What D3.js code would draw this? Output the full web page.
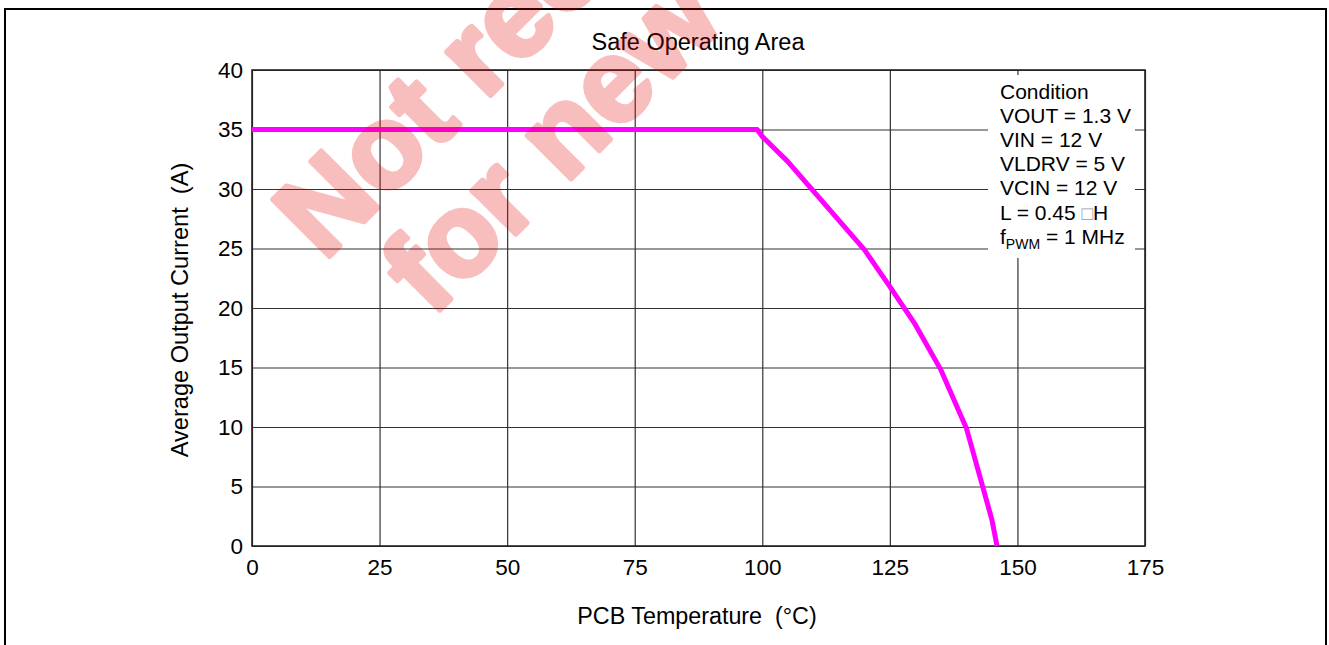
<!DOCTYPE html>
<html>
<head>
<meta charset="utf-8">
<script src="https://cdn.jsdelivr.net/npm/d3@7"></script>
<style>
  body { margin: 0; background: #fff; }
  text { font-family: "Liberation Sans", Arial, sans-serif; }
</style>
</head>
<body>
<div id="chart"></div>
<script>
// data
const temps   = [0, 99, 100, 105, 120, 125, 130, 135, 140, 145, 146];
const current = [35, 35, 34.4, 32.3, 24.9, 21.8, 18.6, 14.8, 9.9, 2.2, 0];
const xTicks = [0, 25, 50, 75, 100, 125, 150, 175];
const yTicks = [0, 5, 10, 15, 20, 25, 30, 35, 40];
const conditionLines = ["Condition", "VOUT = 1.3 V", "VIN = 12 V", "VLDRV = 5 V", "VCIN = 12 V"];

const W = 1329, H = 645;
const margin = {top: 70, right: 184, bottom: 99, left: 252},
    width = W - margin.left - margin.right,
    height = H - margin.top - margin.bottom;

const root = d3.select("#chart").append("svg")
  .attr("width", W)
  .attr("height", H);

// outer frame
root.append("rect")
  .attr("x", 5).attr("y", 9)
  .attr("width", 1321).attr("height", 700)
  .attr("fill", "none")
  .attr("stroke", "#000")
  .attr("stroke-width", 2);

const svg = root.append("g")
  .attr("transform", `translate(${margin.left},${margin.top})`);

const x = d3.scaleLinear().domain([0, 175]).range([0, width]);
const y = d3.scaleLinear().domain([0, 40]).range([height, 0]);

// axes + grid
const xAxis = svg.append("g")
  .attr("transform", `translate(0,${height})`)
  .call(d3.axisBottom(x).tickValues(xTicks).tickSize(-height).tickPadding(13));
const yAxis = svg.append("g")
  .call(d3.axisLeft(y).tickValues(yTicks).tickSize(-width).tickPadding(9));

[xAxis, yAxis].forEach(a => {
  a.select(".domain").remove();
  a.selectAll("line").attr("stroke", "#333").attr("stroke-width", 1.2);
  a.selectAll("text")
    .attr("font-size", 22.5)
    .attr("fill", "#000")
    .style("font-family", '"Liberation Sans", Arial, sans-serif');
});

// condition box
svg.append("rect")
  .attr("x", 988 - margin.left).attr("y", 75 - margin.top)
  .attr("width", 147).attr("height", 183)
  .attr("fill", "#fff");

// plot border
svg.append("rect")
  .attr("width", width).attr("height", height)
  .attr("fill", "none")
  .attr("stroke", "#222")
  .attr("stroke-width", 1.6);

// curve
const pts = temps.map((t, i) => [t, current[i]]);
svg.append("path")
  .datum(pts)
  .attr("fill", "none")
  .attr("stroke", "#ff00ff")
  .attr("stroke-width", 5)
  .attr("stroke-linejoin", "round")
  .attr("d", d3.line().x(d => x(d[0])).y(d => y(d[1])));

// condition text
const cx = 1000 - margin.left;
const cond = svg.append("text")
  .attr("x", cx)
  .attr("y", 99 - margin.top)
  .attr("font-size", 21);
conditionLines.forEach((s, i) => {
  cond.append("tspan").attr("x", cx).attr("dy", i ? 24.1 : 0).text(s);
});
cond.append("tspan").attr("x", cx).attr("dy", 24.1).text("L = 0.45 ");
cond.append("tspan").attr("fill", "#999").attr("font-size", 19).text("\u25A1");
cond.append("tspan").text("H");
cond.append("tspan").attr("x", cx).attr("dy", 24.1).text("f");
cond.append("tspan").attr("font-size", 14).attr("dy", 5).text("PWM");
cond.append("tspan").attr("dy", -5).text(" = 1 MHz");

// title
root.append("text")
  .attr("x", 698).attr("y", 50)
  .attr("text-anchor", "middle")
  .attr("font-size", 23.5)
  .text("Safe Operating Area");

// axis labels
root.append("text")
  .attr("x", 697).attr("y", 624)
  .attr("text-anchor", "middle")
  .attr("font-size", 23.3)
  .style("white-space", "pre")
  .text("PCB Temperature  (°C)");

root.append("text")
  .attr("transform", "translate(188,310) rotate(-90)")
  .attr("text-anchor", "middle")
  .attr("font-size", 23.6)
  .style("white-space", "pre")
  .text("Average Output Current  (A)");

// watermark
const wm = root.append("g")
  .attr("fill", "rgb(231,0,0)")
  .attr("stroke", "rgb(231,0,0)")
  .attr("stroke-width", 5)
  .attr("stroke-linejoin", "round")
  .attr("opacity", 0.255)
  .attr("font-weight", "bold")
  .attr("font-size", 117);
wm.append("text")
  .attr("transform", "translate(324,262) rotate(-45)")
  .text("Not recommended");
wm.append("text")
  .attr("transform", "translate(432,318) rotate(-45)")
  .text("for new designs");
</script>
</body>
</html>
